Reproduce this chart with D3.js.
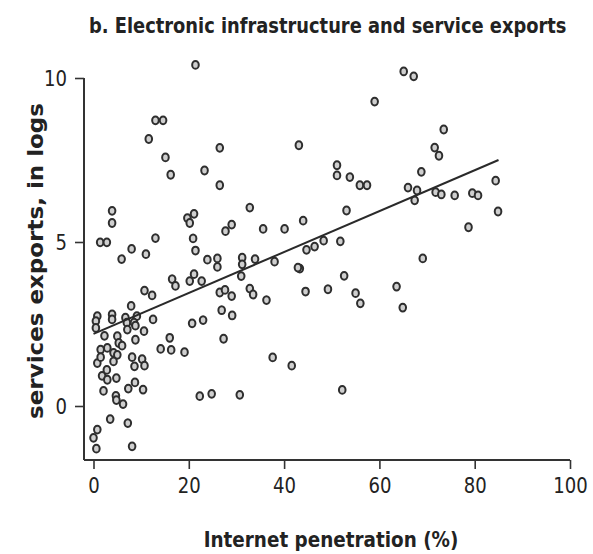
<!DOCTYPE html>
<html><head><meta charset="utf-8">
<script src="https://cdn.jsdelivr.net/npm/d3@7"></script>
<style>
body{margin:0;background:#fff;}
text{font-family:"DejaVu Sans",sans-serif;fill:#222;}
</style></head>
<body><svg id="chart" width="593" height="554"></svg>
<script>
const internetPct = [21.4,13.0,14.6,11.6,15.1,16.2,23.3,26.5,26.5,43.1,3.9,3.9,32.8,
65.1,67.2,59.0,73.5,71.6,72.5,68.8,51.1,51.1,53.8,55.9,57.4,66.0,67.9,67.4,71.8,73.0,75.8,79.5,80.7,84.4,84.9,78.7,53.1,44.0,48.3,51.8,44.7,46.4,69.1,43.3,52.6,44.5,49.2,55.0,56.0,63.6,64.9,52.2,
29.0,27.7,35.6,40.1,23.9,26.0,26.0,31.2,31.2,33.9,38.0,42.9,31.0,22.7,26.5,27.6,29.0,32.8,33.5,36.3,26.9,29.1,23.0,27.3,37.6,41.6,22.3,24.8,30.7,
1.4,2.8,5.9,8.0,11.0,13.0,19.7,20.2,21.1,20.9,21.4,16.5,17.2,20.2,21.1,10.7,12.3,7.9,0.8,0.5,3.9,3.9,6.7,9.1,7.0,8.5,12.5,20.7,8.8,0.5,2.3,5.0,7.1,8.8,10.6,16.0,14.1,16.3,19.1,5.3,6.0,1.5,2.9,4.2,5.0,0.8,1.5,4.2,8.1,8.6,10.2,10.7,2.8,1.8,2.9,4.8,8.7,7.3,10.4,2.1,4.7,4.8,6.2,3.5,7.2,0.8,0.0,0.6,8.1];
const serviceExportsLog = [10.4,8.71,8.71,8.14,7.58,7.05,7.18,7.87,6.73,7.95,5.95,5.58,6.05,
10.2,10.05,9.28,8.43,7.88,7.63,7.14,7.34,7.03,6.98,6.73,6.73,6.66,6.57,6.27,6.52,6.45,6.42,6.49,6.42,6.87,5.93,5.45,5.96,5.65,5.04,5.02,4.76,4.86,4.50,4.19,3.97,3.49,3.56,3.44,3.13,3.64,3.00,0.49,
5.53,5.33,5.40,5.40,4.46,4.50,4.24,4.52,4.32,4.48,4.40,4.22,3.96,3.81,3.46,3.54,3.35,3.58,3.40,3.23,2.92,2.76,2.62,2.05,1.48,1.23,0.30,0.37,0.34,
4.99,4.99,4.48,4.79,4.63,5.12,5.73,5.58,5.86,5.11,4.74,3.87,3.66,3.81,4.02,3.52,3.37,3.05,2.74,2.59,2.79,2.64,2.69,2.74,2.54,2.54,2.64,2.52,2.45,2.38,2.14,2.13,2.33,2.02,2.28,2.08,1.74,1.71,1.64,1.92,1.84,1.72,1.77,1.62,1.56,1.31,1.49,1.36,1.49,1.21,1.43,1.23,1.10,0.92,0.80,0.85,0.72,0.53,0.50,0.46,0.31,0.18,0.06,-0.40,-0.52,-0.72,-0.97,-1.30,-1.23];
const fitX = [0, 85];
const fitY = [2.2, 7.5];
const xTicks = [0,20,40,60,80,100];
const yTicks = [0,5,10];
const titleText = "b. Electronic infrastructure and service exports";
const xTitle = "Internet penetration (%)";
const yTitle = "services exports, in logs";

const svg = d3.select("#chart");
const x = d3.scaleLinear().domain([0,100]).range([93.5,570]);
const y = d3.scaleLinear().domain([0,10]).range([406,78]);
const axisColor = "#333";

// squeeze a text horizontally so that its rendered width equals w
function fitWidth(sel, w, anchorX, anchorY, rotate, anchor) {
  const nat = sel.node().getComputedTextLength();
  const s = w / nat;
  sel.attr("transform", `translate(${anchorX},${anchorY})${rotate ? " rotate(-90)" : ""} scale(${s},1)`)
     .attr("text-anchor", anchor);
}

// axes
const xAxis = svg.append("g").attr("transform","translate(0,460)")
  .call(d3.axisBottom(x).tickValues(xTicks).tickSize(9).tickSizeOuter(0).tickPadding(6));
xAxis.select(".domain").attr("d", `M84,0H${x(100)}`);
const yAxis = svg.append("g").attr("transform","translate(84,0)")
  .call(d3.axisLeft(y).tickValues(yTicks).tickSize(9).tickSizeOuter(0).tickPadding(8));
yAxis.select(".domain").attr("d", `M0,${y(10)}V460`);
svg.selectAll(".domain").attr("stroke",axisColor).attr("stroke-width",2);
svg.selectAll(".tick line").attr("stroke",axisColor).attr("stroke-width",1.6);
svg.selectAll(".tick text").attr("font-size",22).attr("fill","#222")
  .attr("font-family","DejaVu Sans, sans-serif");
xAxis.selectAll(".tick text").attr("dy","0.8em").each(function(d){
  const t = d3.select(this);
  const s = String(d).length*11.5 / this.getComputedTextLength();
  t.attr("transform",`scale(${s},1)`);
});
yAxis.selectAll(".tick text").attr("dy","0.35em").each(function(d){
  const t = d3.select(this);
  const s = String(d).length*11.5 / this.getComputedTextLength();
  const x0 = +t.attr("x");
  t.attr("x", x0 / s).attr("transform",`scale(${s},1)`);
});

// points
const pts = internetPct.map((v,i)=>({x:v,y:serviceExportsLog[i]}));
svg.append("g").selectAll("ellipse").data(pts).join("ellipse")
  .attr("cx",d=>x(d.x)).attr("cy",d=>y(d.y))
  .attr("rx",3.3).attr("ry",3.9)
  .attr("fill","#cfcfcf").attr("stroke","#2e2e2e").attr("stroke-width",2);

// fit line
svg.append("line")
  .attr("x1",x(fitX[0])).attr("y1",y(fitY[0]))
  .attr("x2",x(fitX[1])).attr("y2",y(fitY[1]))
  .attr("stroke","#2a2a2a").attr("stroke-width",2);

// titles
const tt = svg.append("text").text(titleText)
  .attr("font-size",22).attr("font-weight","bold");
fitWidth(tt, 478, 89, 33, false, "start");
const xt = svg.append("text").text(xTitle)
  .attr("font-size",21).attr("font-weight","bold").attr("fill","#333");
fitWidth(xt, 255, 331, 547, false, "middle");
const yt = svg.append("text").text(yTitle)
  .attr("font-size",22).attr("font-weight","bold").attr("fill","#333");
fitWidth(yt, 316, 43, 261, true, "middle");
</script></body></html>
